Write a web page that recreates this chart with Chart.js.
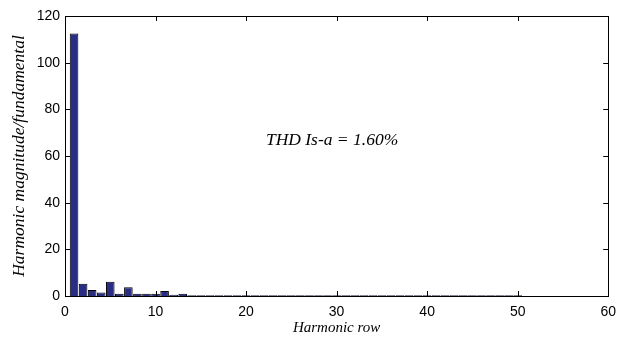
<!DOCTYPE html>
<html>
<head>
<meta charset="utf-8">
<script src="https://cdn.jsdelivr.net/npm/chart.js@4.4.1/dist/chart.umd.min.js"></script>
<style>
  html, body { margin: 0; padding: 0; background: #fff; }
  #wrap { width: 624px; height: 338px; position: relative; }
</style>
</head>
<body>
<div id="wrap"><canvas id="harm-chart"></canvas></div>
<script>
// harmonic order and magnitude (% of fundamental)
const harmonicOrder = [];
for (let n = 1; n <= 50; n++) harmonicOrder.push(n);
const magnitude = [
  112.5, 5.3, 2.6, 1.5, 6.1, 1.0, 3.7, 1.0, 1.0, 1.0,
  2.1, 0.5, 1.0, 0.3, 0.3, 0.3, 0.3, 0.3, 0.3, 0.3,
  0.3, 0.3, 0.3, 0.3, 0.3, 0.3, 0.3, 0.3, 0.3, 0.3,
  0.3, 0.3, 0.3, 0.3, 0.3, 0.3, 0.3, 0.3, 0.3, 0.3,
  0.3, 0.3, 0.3, 0.3, 0.3, 0.3, 0.3, 0.3, 0.3, 0.3
];
const xTicks = [0, 10, 20, 30, 40, 50, 60];
const yTicks = [0, 20, 40, 60, 80, 100, 120];
const thdText = "THD Is-a = 1.60%";

const points = harmonicOrder.map((n, i) => ({ x: n, y: magnitude[i] }));

// matlab style box with inward ticks + text annotation
const boxPlugin = {
  id: "boxPlugin",
  afterDraw(chart) {
    const ctx = chart.ctx;
    const a = chart.chartArea;
    const xs = chart.scales.x, ys = chart.scales.y;
    ctx.save();
    ctx.strokeStyle = "#000";
    ctx.lineWidth = 1;
    ctx.strokeRect(Math.round(a.left) + 0.5, Math.round(a.top) + 0.5,
      Math.round(a.right - a.left), Math.round(a.bottom - a.top));
    ctx.beginPath();
    xTicks.forEach(v => {
      const px = Math.round(xs.getPixelForValue(v)) + 0.5;
      ctx.moveTo(px, a.bottom); ctx.lineTo(px, a.bottom - 5);
      ctx.moveTo(px, a.top); ctx.lineTo(px, a.top + 5);
    });
    yTicks.forEach(v => {
      const py = Math.round(ys.getPixelForValue(v)) + 0.5;
      ctx.moveTo(a.left, py); ctx.lineTo(a.left + 5, py);
      ctx.moveTo(a.right, py); ctx.lineTo(a.right - 5, py);
    });
    ctx.stroke();
    ctx.fillStyle = "#000";
    ctx.font = "italic 17.5px 'Liberation Serif'";
    ctx.textAlign = "center";
    ctx.textBaseline = "middle";
    ctx.fillText(thdText, xs.getPixelForValue(29.5), ys.getPixelForValue(66.5));
    ctx.restore();
  }
};

const context = document.querySelector("#harm-chart").getContext("2d");
const chart = new Chart(context, {
  type: "bar",
  data: {
    datasets: [{
      label: "Harmonic magnitude",
      data: points,
      backgroundColor: "#2a2d86",
      borderColor: "#000",
      borderWidth: 1,
      barPercentage: 1,
      categoryPercentage: 0.95
    }]
  },
  options: {
    responsive: true,
    maintainAspectRatio: false,
    animation: false,
    layout: { padding: { top: 16, right: 9, left: 0, bottom: 0 } },
    plugins: {
      legend: { display: false },
      tooltip: { enabled: false }
    },
    scales: {
      x: {
        type: "linear",
        min: 0, max: 60,
        offset: false,
        grid: { display: false, drawTicks: false },
        border: { display: false },
        afterBuildTicks: s => { s.ticks = xTicks.map(v => ({ value: v })); },
        afterFit: s => { s.height = 42; },
        ticks: { color: "#000", padding: 8, maxRotation: 0, font: { family: "'Liberation Sans'", size: 14 } },
        title: { display: true, text: "Harmonic row", color: "#000", padding: { top: 0, bottom: 1 },
                 font: { family: "'Liberation Serif'", style: "italic", size: 15 } }
      },
      y: {
        min: 0, max: 120,
        grid: { display: false, drawTicks: false },
        border: { display: false },
        afterBuildTicks: s => { s.ticks = yTicks.map(v => ({ value: v })); },
        afterFit: s => { s.width = 65; },
        ticks: { color: "#000", padding: 5, font: { family: "'Liberation Sans'", size: 14 } },
        title: { display: true, text: "Harmonic magnitude/fundamental", color: "#000", padding: { top: 9, bottom: 0 },
                 font: { family: "'Liberation Serif'", style: "italic", size: 17.5 } }
      }
    }
  },
  plugins: [boxPlugin]
});
</script>
</body>
</html>
